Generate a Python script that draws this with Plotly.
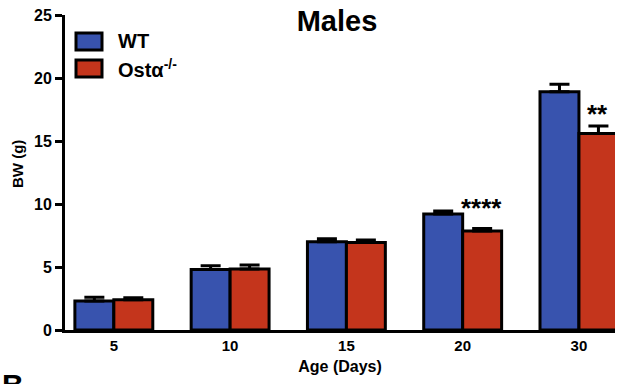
import plotly.graph_objects as go

ages = ["5", "10", "15", "20", "30"]
wt_mean = [2.3, 4.8, 7.0, 9.2, 18.9]
wt_err = [0.3, 0.3, 0.25, 0.25, 0.6]
ko_mean = [2.4, 4.85, 6.95, 7.85, 15.6]
ko_err = [0.15, 0.3, 0.2, 0.2, 0.6]
sig_labels = ["", "", "", "****", "**"]
y_ticks = [0, 5, 10, 15, 20, 25]

BLUE = "#3853AE"
RED = "#C4351C"
FONT = "Liberation Sans, Arial, sans-serif"
star_shift = [0, 0, 0, 4, -5]

fig = go.Figure()
for name, mean, err, col in [("WT", wt_mean, wt_err, BLUE), ("Ostα<sup>-/-</sup>", ko_mean, ko_err, RED)]:
    fig.add_trace(go.Bar(
        x=ages, y=mean, name=name,
        marker=dict(color=col, line=dict(color="black", width=3)),
        error_y=dict(type="data", array=err, arrayminus=[0] * len(err), symmetric=False,
                     color="black", thickness=3, width=10),
        showlegend=False,
    ))

# significance stars above the knockout bars
for i, (m, e, s) in enumerate(zip(ko_mean, ko_err, sig_labels)):
    if s:
        fig.add_annotation(x=i, y=m + e, text="<b>%s</b>" % s, showarrow=False,
                           xshift=19, yshift=star_shift[i], yanchor="bottom",
                           font=dict(family=FONT, size=26, color="black"))

# manual legend
for i, (lab, col) in enumerate([("WT", BLUE), ("Ostα<sup>-/-</sup>", RED)]):
    fig.add_shape(type="rect", xref="paper", yref="paper",
                  x0=11 / 550, x1=37 / 550, y0=1 - (35 + i * 27) / 315, y1=1 - (18 + i * 27) / 315,
                  fillcolor=col, line=dict(color="black", width=3))
    fig.add_annotation(xref="paper", yref="paper", x=51 / 550, y=1 - (26 + i * 27) / 315,
                       text="<b>%s</b>" % lab, showarrow=False, xanchor="left", yanchor="middle",
                       font=dict(family=FONT, size=20, color="black"))

# y-axis title
fig.add_annotation(xref="paper", yref="paper", x=(17 - 65) / 550, y=1 - (164 - 15) / 315,
                   text="<b>BW (g)</b>", textangle=-90, showarrow=False,
                   xanchor="center", yanchor="middle",
                   font=dict(family=FONT, size=15, color="black"))

fig.add_annotation(xref="paper", yref="paper", x=-65 / 550, y=-54 / 315, text="<b>B</b>",
                   showarrow=False, xanchor="left", yanchor="middle",
                   font=dict(family=FONT, size=30, color="black"))

fig.update_layout(
    width=619, height=384,
    margin=dict(l=65, r=4, t=15, b=54, autoexpand=False),
    plot_bgcolor="white", paper_bgcolor="white",
    barmode="group", bargap=0.33, bargroupgap=0.0,
    title=dict(text="<b>Males</b>", x=337 / 619, xanchor="center", y=1 - 21 / 384, yanchor="middle",
               font=dict(family=FONT, size=29, color="black")),
    font=dict(family=FONT, color="black"),
)
fig.update_xaxes(type="category", range=[-0.42, 4.31], showline=True, linecolor="black", linewidth=3,
                 ticks="", automargin=False, tickfont=dict(family=FONT, size=15, color="black", weight="bold"),
                 title=dict(text="<b>Age (Days)</b>", font=dict(family=FONT, size=16, color="black"), standoff=8))
fig.update_yaxes(range=[0, 25], tickvals=y_ticks, showline=True, linecolor="black", linewidth=3,
                 ticks="outside", ticklen=7, tickwidth=3, tickcolor="black", showgrid=False, zeroline=False,
                 automargin=False, tickfont=dict(family=FONT, size=16, color="black", weight="bold"))

fig.write_html("out.html", config={"displayModeBar": False},
               post_script="document.body.style.margin='0';")
